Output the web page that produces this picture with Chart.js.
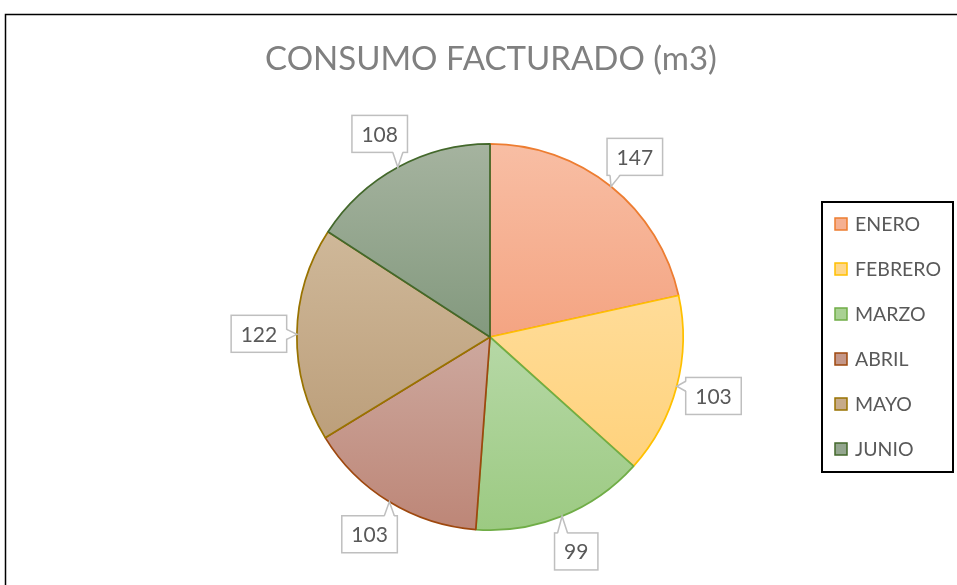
<!DOCTYPE html>
<html><head><meta charset="utf-8">
<script src="https://cdn.jsdelivr.net/npm/chart.js@4/dist/chart.umd.min.js"></script>
<style>html,body{margin:0;padding:0;background:#fff}#wrap{width:957px;height:585px}</style>
</head><body><div id="wrap"><canvas id="c" width="957" height="585"></canvas></div>
<script>
const chartTitle = 'CONSUMO FACTURADO (m3)';
const categories = ['ENERO', 'FEBRERO', 'MARZO', 'ABRIL', 'MAYO', 'JUNIO'];
const values = [147, 103, 99, 103, 122, 108];
const borderColors = ['#ED7D31', '#FFC000', '#70AD47', '#9E480E', '#997300', '#43682B'];
const topColors = ['#F8BEA4', '#FFDC98', '#B6D8A6', '#CDA89E', '#CFB899', '#A5B39F'];
const bottomColors = ['#F4A482', '#FFD27C', '#9CCA82', '#BD8677', '#BC9F7B', '#83997E'];
const legendFill = ['#F5B091', '#FFD78A', '#A9D193', '#C49789', '#C6AB8A', '#94A68F'];

const FONT = 'Lato, "Open Sans", sans-serif';

function arcYExtent(el) {
  const {x, y, startAngle, endAngle, outerRadius: r} = el;
  let ys = [y, y + r * Math.sin(startAngle), y + r * Math.sin(endAngle)];
  for (let k = -2; k <= 3; k++) {
    const a1 = -Math.PI / 2 + 2 * Math.PI * k;
    const a2 = Math.PI / 2 + 2 * Math.PI * k;
    if (a1 >= startAngle && a1 <= endAngle) ys.push(y - r);
    if (a2 >= startAngle && a2 <= endAngle) ys.push(y + r);
  }
  return [Math.min(...ys), Math.max(...ys)];
}

const excelPlugin = {
  id: 'excelPlugin',
  beforeDraw(chart) {
    const ctx = chart.ctx;
    ctx.save();
    ctx.fillStyle = '#fff';
    ctx.fillRect(0, 0, chart.width, chart.height);
    ctx.strokeStyle = '#000';
    ctx.lineWidth = 1.5;
    ctx.strokeRect(5.5, 14.5, 960, 600);
    ctx.fillStyle = '#808080';
    ctx.font = '33px ' + FONT;
    ctx.textAlign = 'center';
    ctx.textBaseline = 'middle';
    ctx.fillText(chartTitle, 491, 59);
    ctx.restore();
  },
  beforeDatasetsDraw(chart) {
    const ctx = chart.ctx;
    const meta = chart.getDatasetMeta(0);
    meta.data.forEach((el, i) => {
      const [y0, y1] = arcYExtent(el);
      const g = ctx.createLinearGradient(0, y0, 0, y1);
      g.addColorStop(0, topColors[i]);
      g.addColorStop(1, bottomColors[i]);
      el.options.backgroundColor = g;
    });
  },
  afterDatasetsDraw(chart) {
    const ctx = chart.ctx;
    const meta = chart.getDatasetMeta(0);
    ctx.save();
    ctx.font = '21px ' + FONT;
    meta.data.forEach((el, i) => {
      const {x, y, startAngle, endAngle, outerRadius: r} = el;
      const mid = (startAngle + endAngle) / 2;
      const txt = String(values[i]);
      const tw = ctx.measureText(txt).width;
      const bw = tw + 19, bh = 37;
      const cx = x + (r + 38) * Math.cos(mid);
      const cy = y + (r + 38) * Math.sin(mid);
      const bx = cx - bw / 2, by = cy - bh / 2;
      const px = x + r * Math.cos(mid), py = y + r * Math.sin(mid);
      ctx.fillStyle = '#fff';
      ctx.fillRect(bx, by, bw, bh);
      ctx.strokeStyle = '#BFBFBF';
      ctx.lineWidth = 1.5;
      ctx.strokeRect(bx, by, bw, bh);
      const qx = Math.max(bx, Math.min(bx + bw, px));
      const qy = Math.max(by, Math.min(by + bh, py));
      let b1, b2, inset;
      const onVert = Math.abs(px - cx) / bw > Math.abs(py - cy) / bh;
      if (onVert) {
        const ex = px < cx ? bx : bx + bw;
        const yy = Math.max(by + 8, Math.min(by + bh - 8, qy));
        b1 = [ex, yy - 5]; b2 = [ex, yy + 5];
        inset = [px < cx ? 1.5 : -1.5, 0];
      } else {
        const ey = py < cy ? by : by + bh;
        const xx = Math.max(bx + 8, Math.min(bx + bw - 8, qx));
        b1 = [xx - 5, ey]; b2 = [xx + 5, ey];
        inset = [0, py < cy ? 1.5 : -1.5];
      }
      ctx.beginPath();
      ctx.moveTo(b1[0] + inset[0], b1[1] + inset[1]);
      ctx.lineTo(px, py);
      ctx.lineTo(b2[0] + inset[0], b2[1] + inset[1]);
      ctx.closePath();
      ctx.fillStyle = '#fff';
      ctx.fill();
      ctx.beginPath();
      ctx.moveTo(b1[0], b1[1]);
      ctx.lineTo(px, py);
      ctx.lineTo(b2[0], b2[1]);
      ctx.stroke();
      ctx.fillStyle = '#595959';
      ctx.textAlign = 'center';
      ctx.textBaseline = 'middle';
      ctx.fillText(txt, cx, cy + 1);
    });
    ctx.strokeStyle = '#000';
    ctx.lineWidth = 2;
    ctx.strokeRect(822, 202, 131, 270);
    ctx.font = '19.5px ' + FONT;
    ctx.textAlign = 'left';
    ctx.textBaseline = 'middle';
    categories.forEach((c, i) => {
      const yc = 224 + 45 * i;
      ctx.fillStyle = legendFill[i];
      ctx.fillRect(835, yc - 6, 12, 12);
      ctx.strokeStyle = borderColors[i];
      ctx.lineWidth = 1.5;
      ctx.strokeRect(835, yc - 6, 12, 12);
      ctx.fillStyle = '#595959';
      ctx.fillText(c, 855, yc + 1);
    });
    ctx.restore();
  }
};

new Chart(document.getElementById('c'), {
  type: 'pie',
  data: {
    labels: categories,
    datasets: [{
      data: values,
      backgroundColor: legendFill,
      borderColor: borderColors,
      borderWidth: 1.75
    }]
  },
  options: {
    responsive: false,
    animation: false,
    layout: {padding: {left: 296, right: 273, top: 143, bottom: 54}},
    plugins: {
      legend: {display: false},
      title: {display: false},
      tooltip: {enabled: false}
    }
  },
  plugins: [excelPlugin]
});
</script>
</body></html>
